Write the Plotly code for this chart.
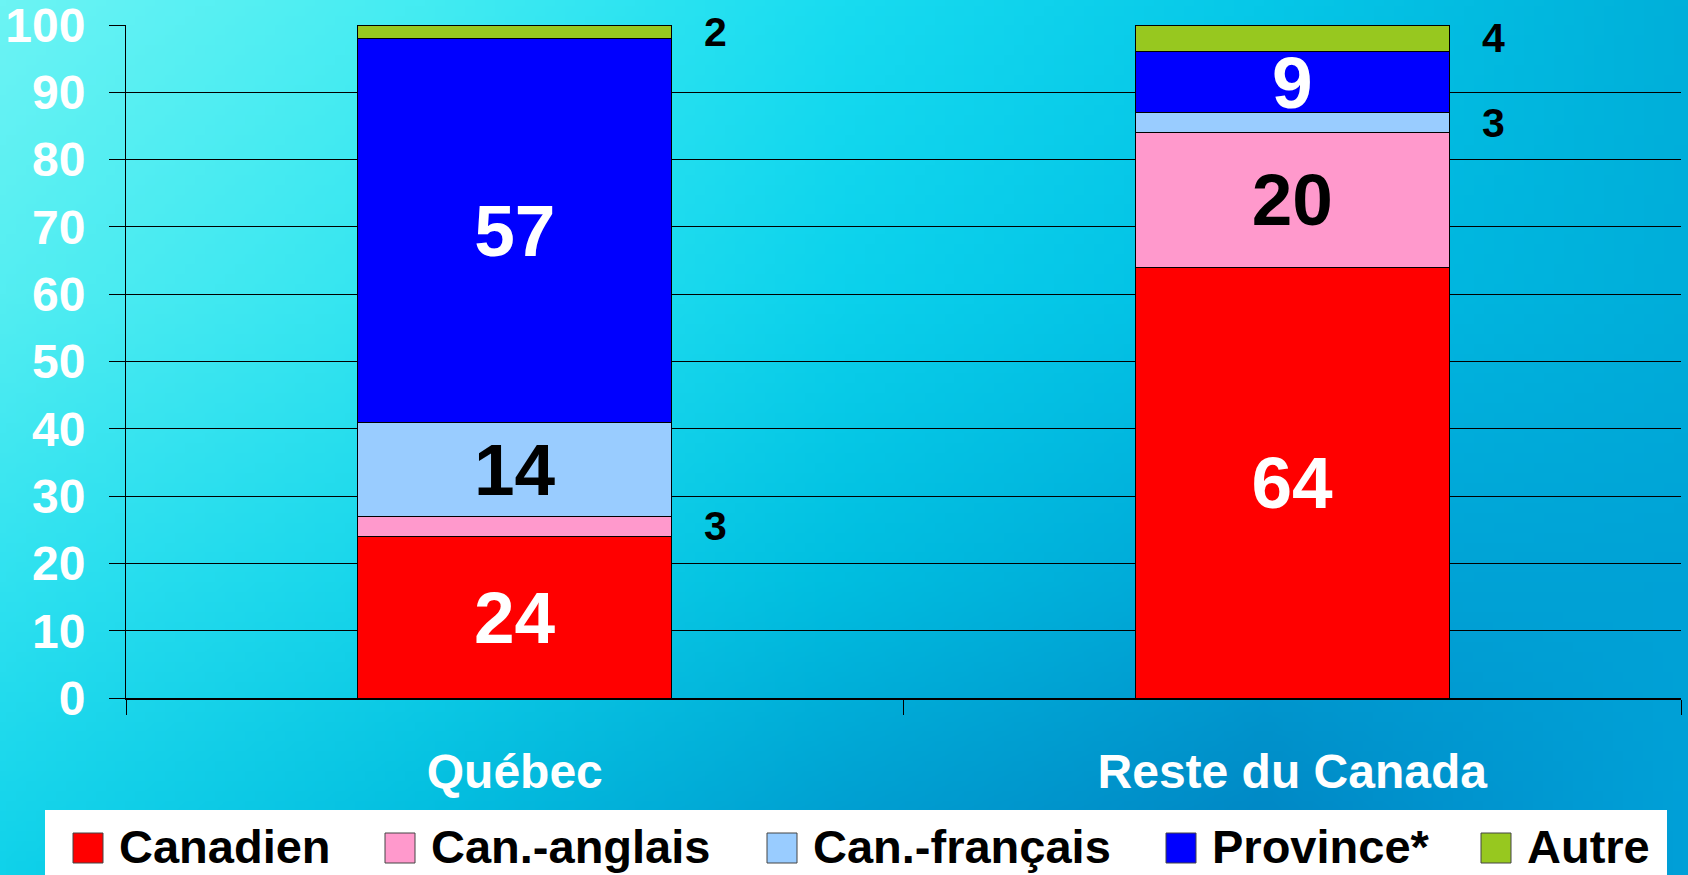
import base64, struct, zlib
import numpy as np
import plotly.graph_objects as go

# ---------------- data ----------------
categories = ["Québec", "Reste du Canada"]
series_names = ["Canadien", "Can.-anglais", "Can.-français", "Province*", "Autre"]
canadien = [24, 64]
can_anglais = [3, 20]
can_francais = [14, 3]
province = [57, 9]
autre = [2, 4]
series_values = [canadien, can_anglais, can_francais, province, autre]
y_ticks = [0, 10, 20, 30, 40, 50, 60, 70, 80, 90, 100]

# ---------------- styles ----------------
colors = ["#FF0000", "#FF99CC", "#99CCFF", "#0000FF", "#97C81F"]
inside_flags = [[True, True], [False, True], [True, False], [True, True], [False, False]]
inside_colors = ["white", "black", "black", "white", "black"]
FONT = "Liberation Sans, Arial, sans-serif"

W, H = 1688, 875
ML, MR, MT, MB = 126, 7, 25, 177
PW, PH = W - ML - MR, H - MT - MB


# ---------------- background gradient (PNG data URI) ----------------
def hex2rgb(h):
    h = h.lstrip("#")
    return [int(h[i:i + 2], 16) for i in (0, 2, 4)]

grid = [
    ["#6CF4F4", "#44ECF2", "#18DCF0", "#06C8E8", "#00B0DA"],
    ["#54EEF2", "#30E4F0", "#0CD2EC", "#00BEE4", "#00AEDA"],
    ["#30E2F0", "#14D4EA", "#00BEE0", "#00A4D6", "#00A2D6"],
    ["#10D2EA", "#00BADE", "#0098CE", "#0082C2", "#00A0D8"],
]
G = np.array([[hex2rgb(c) for c in row] for row in grid], dtype=float)
iw, ih = 169, 88
gy = np.linspace(0, G.shape[0] - 1, ih)
gx = np.linspace(0, G.shape[1] - 1, iw)
y0 = np.clip(np.floor(gy).astype(int), 0, G.shape[0] - 2)
x0 = np.clip(np.floor(gx).astype(int), 0, G.shape[1] - 2)
fy = (gy - y0)[:, None, None]
fx = (gx - x0)[None, :, None]
a = G[y0][:, x0]
b = G[y0][:, x0 + 1]
c = G[y0 + 1][:, x0]
d = G[y0 + 1][:, x0 + 1]
img = (a * (1 - fx) * (1 - fy) + b * fx * (1 - fy) + c * (1 - fx) * fy + d * fx * fy)
img = np.clip(img, 0, 255).astype(np.uint8)


def png_uri(arr):
    h, w, _ = arr.shape
    raw = b"".join(b"\x00" + arr[r].tobytes() for r in range(h))

    def chunk(tag, data):
        return (struct.pack(">I", len(data)) + tag + data +
                struct.pack(">I", zlib.crc32(tag + data) & 0xFFFFFFFF))

    png = (b"\x89PNG\r\n\x1a\n" +
           chunk(b"IHDR", struct.pack(">IIBBBBB", w, h, 8, 2, 0, 0, 0)) +
           chunk(b"IDAT", zlib.compress(raw, 9)) + chunk(b"IEND", b""))
    return "data:image/png;base64," + base64.b64encode(png).decode()


bg_uri = png_uri(img)

# ---------------- figure ----------------
fig = go.Figure()
for name, vals, col, flags, tcol in zip(series_names, series_values, colors,
                                        inside_flags, inside_colors):
    fig.add_trace(go.Bar(
        x=categories, y=vals, name=name, showlegend=False,
        marker=dict(color=col, line=dict(color="black", width=1)),
        text=[str(v) if f else "" for v, f in zip(vals, flags)],
        textposition="inside", insidetextanchor="middle",
        constraintext="none", textangle=0,
        textfont=dict(family=FONT, size=73, color=tcol, weight="bold"),
        hoverinfo="skip",
    ))

# small outside labels
annotations = []
cum = [0] * len(categories)
for vals, flags in zip(series_values, inside_flags):
    for i, (v, f) in enumerate(zip(vals, flags)):
        if not f:
            annotations.append(dict(
                x=categories[i], y=cum[i] + v / 2, xref="x", yref="y",
                text=str(v), showarrow=False, xshift=201,
                font=dict(family=FONT, size=41, color="black", weight="bold"),
            ))
        cum[i] += v

# manual legend (white band with squares + text)
legend_x = [73, 385, 767, 1166, 1481]
def px2paper_x(px):
    return (px - ML) / PW
def px2paper_y(py):
    return (H - MB - py) / PH

shapes = [dict(type="rect", xref="paper", yref="paper",
               x0=px2paper_x(45), x1=px2paper_x(1667),
               y0=px2paper_y(880), y1=px2paper_y(810),
               fillcolor="white", line=dict(width=0), layer="above")]
for lx, name, col in zip(legend_x, series_names, colors):
    shapes.append(dict(type="rect", xref="paper", yref="paper",
                       x0=px2paper_x(lx), x1=px2paper_x(lx + 30),
                       y0=px2paper_y(863), y1=px2paper_y(833),
                       fillcolor=col, line=dict(color="#444444", width=1),
                       layer="above"))
    annotations.append(dict(
        x=px2paper_x(lx + 44), y=px2paper_y(846), xref="paper", yref="paper",
        xanchor="left", yanchor="middle", text=name, showarrow=False,
        font=dict(family=FONT, size=47, color="black", weight="bold"),
    ))

fig.update_layout(
    barmode="stack", bargap=0.596,
    width=W, height=H,
    margin=dict(l=ML, r=MR, t=MT, b=MB, pad=0, autoexpand=False),
    paper_bgcolor="#00B8E0", plot_bgcolor="white",
    showlegend=False,
    annotations=annotations, shapes=shapes,
    images=[dict(source=bg_uri, xref="paper", yref="paper",
                 x=-ML / PW, y=1 + MT / PH, sizex=W / PW, sizey=H / PH,
                 xanchor="left", yanchor="top", sizing="stretch",
                 layer="below")],
    font=dict(family=FONT),
)
fig.update_yaxes(
    range=[0, 100], tickvals=y_ticks, ticks="outside", ticklen=16,
    tickcolor="black", showline=True, linecolor="black", linewidth=1,
    showgrid=True, gridcolor="black", gridwidth=1, zeroline=False,
    tickfont=dict(family=FONT, size=48, color="white", weight="bold"),
    ticklabelstandoff=14, ticklabeloverflow="allow", automargin=False,
    fixedrange=True,
)
fig.update_xaxes(
    type="category", tickson="boundaries", ticks="outside", ticklen=15,
    tickcolor="black", tickwidth=1, showline=True, linecolor="black",
    linewidth=2, showgrid=False,
    tickfont=dict(family=FONT, size=48, color="white", weight="bold"),
    ticklabelstandoff=30, ticklabeloverflow="allow", automargin=False,
    fixedrange=True,
)

fig.write_html("out.html", config={"displayModeBar": False},
               post_script="document.body.style.margin='0';")
